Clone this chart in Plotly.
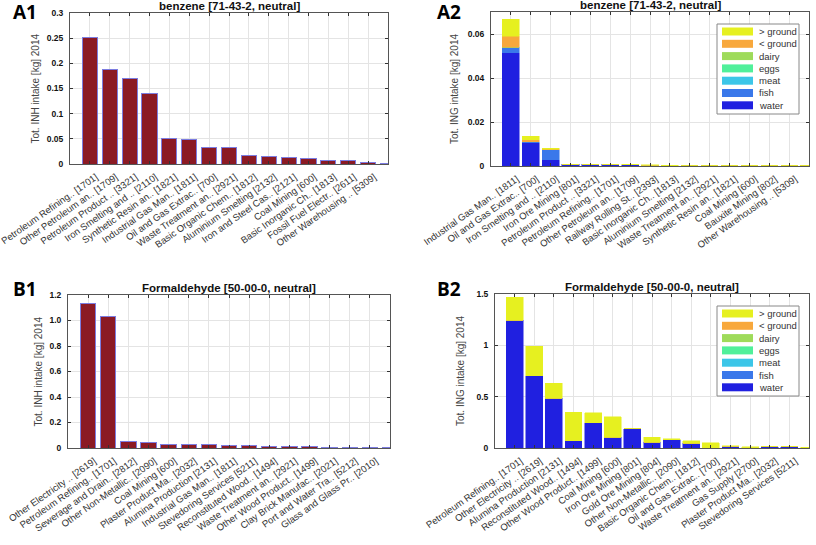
import plotly.graph_objects as go

W, H = 816, 545

# ---------------- data ----------------
a1_labels = ["Petroleum Refining.. [1701]", "Other Petroleum an.. [1709]", "Petroleum Product .. [3321]",
             "Iron Smelting and .. [2110]", "Synthetic Resin an.. [1821]", "Industrial Gas Man.. [1811]",
             "Oil and Gas Extrac.. [700]", "Waste Treatment an.. [2921]", "Basic Organic Chem.. [1812]",
             "Aluminium Smelting [2132]", "Iron and Steel Cas.. [2121]", "Coal Mining [600]",
             "Basic Inorganic Ch.. [1813]", "Fossil Fuel Electr.. [2611]", "Other Warehousing .. [5309]"]
a1_values = [0.252, 0.188, 0.170, 0.140, 0.050, 0.049, 0.033, 0.033, 0.017, 0.015,
             0.012, 0.010, 0.007, 0.007, 0.002, 0.001]

a2_labels = ["Industrial Gas Man.. [1811]", "Oil and Gas Extrac.. [700]", "Iron Smelting and .. [2110]",
             "Iron Ore Mining [801]", "Petroleum Product .. [3321]", "Petroleum Refining.. [1701]",
             "Other Petroleum an.. [1709]", "Railway Rolling St.. [2393]", "Basic Inorganic Ch.. [1813]",
             "Aluminium Smelting [2132]", "Waste Treatment an.. [2921]", "Synthetic Resin an.. [1821]",
             "Coal Mining [600]", "Bauxite Mining [802]", "Other Warehousing .. [5309]"]
a2_water = [0.0514, 0.0105, 0.0029, 0.0007, 0.0007, 0.0007, 0.0006, 0.0004, 0.0002, 0.0001,
            0.0001, 0.0001, 0.00005, 0.00003, 0.00002, 0.00001]
a2_fish = [0.0025, 0.0005, 0.0046, 0.00005, 0.00005, 0.00005, 0.00005, 0.00003, 0.00001, 0.0,
           0.0, 0.0, 0.0, 0.0, 0.0, 0.0]
a2_meat = [0.0] * 16
a2_eggs = [0.0] * 16
a2_dairy = [0.0] * 16
a2_below = [0.0050, 0.0009, 0.0001, 0.0, 0.0, 0.0, 0.0, 0.0, 0.0, 0.0, 0.0, 0.0, 0.0, 0.0, 0.0, 0.0]
a2_above = [0.0078, 0.0017, 0.0004, 0.0001, 0.0001, 0.0001, 0.0001, 0.00005, 0.00003, 0.00002,
            0.00001, 0.00001, 0.00001, 0.00001, 0.0, 0.0]

b1_labels = ["Other Electricity .. [2619]", "Petroleum Refining.. [1701]", "Sewerage and Drain.. [2812]",
             "Other Non-Metallic.. [2090]", "Coal Mining [600]", "Plaster Product Ma.. [2032]",
             "Alumina Production [2131]", "Industrial Gas Man.. [1811]", "Stevedoring Services [5211]",
             "Reconstituted Wood.. [1494]", "Waste Treatment an.. [2921]", "Other Wood Product.. [1499]",
             "Clay Brick Manufac.. [2021]", "Port and Water Tra.. [5212]", "Glass and Glass Pr.. [2010]"]
b1_values = [1.135, 1.035, 0.050, 0.045, 0.031, 0.026, 0.024, 0.018, 0.018, 0.013,
             0.012, 0.008, 0.005, 0.004, 0.003, 0.002]

b2_labels = ["Petroleum Refining.. [1701]", "Other Electricity .. [2619]", "Alumina Production [2131]",
             "Reconstituted Wood.. [1494]", "Other Wood Product.. [1499]", "Coal Mining [600]",
             "Iron Ore Mining [801]", "Gold Ore Mining [804]", "Other Non-Metallic.. [2090]",
             "Basic Organic Chem.. [1812]", "Oil and Gas Extrac.. [700]", "Waste Treatment an.. [2921]",
             "Gas Supply [2700]", "Plaster Product Ma.. [2032]", "Stevedoring Services [5211]"]
b2_water = [1.244, 0.705, 0.487, 0.071, 0.244, 0.104, 0.188, 0.058, 0.078, 0.045,
            0.002, 0.019, 0.001, 0.011, 0.010, 0.001]
b2_fish = [0.0] * 16
b2_meat = [0.0] * 16
b2_eggs = [0.0] * 16
b2_dairy = [0.0] * 16
b2_below = [0.0] * 16
b2_above = [0.224, 0.285, 0.143, 0.276, 0.097, 0.201, 0.0, 0.046, 0.010, 0.026,
            0.050, 0.002, 0.012, 0.001, 0.001, 0.008]

source_names = ["water", "fish", "meat", "eggs", "dairy", "< ground", "> ground"]
source_colors = ["#2020E0", "#3A78EA", "#3CC6E8", "#50F09A", "#9EDB5A", "#F8A83C", "#E6F020"]

a1_ticks = [0, 0.05, 0.1, 0.15, 0.2, 0.25, 0.3]
a2_ticks = [0, 0.02, 0.04, 0.06]
b1_ticks = [0, 0.2, 0.4, 0.6, 0.8, 1.0, 1.2]
b1_ticktext = ["0", "0.2", "0.4", "0.6", "0.8", "1.0", "1.2"]
b2_ticks = [0, 0.5, 1, 1.5]

# ---------------- layout helpers ----------------
def px_x(p):
    return p / W

def px_y(p):
    return 1 - p / H

fig = go.Figure()

RED = "#8B1A24"
EDGE = "#7C7CE0"

def add_simple(values, xa, ya):
    fig.add_trace(go.Bar(x=list(range(1, len(values) + 1)), y=values, xaxis=xa, yaxis=ya,
                         width=0.76, marker=dict(color=RED, line=dict(color=EDGE, width=1)),
                         showlegend=False))

def add_stacked(series, xa, ya):
    for name, col, vals in zip(source_names, source_colors, series):
        fig.add_trace(go.Bar(x=list(range(1, len(vals) + 1)), y=vals, xaxis=xa, yaxis=ya,
                             name=name, width=0.86,
                             marker=dict(color=col, line=dict(color=col, width=0.5)),
                             showlegend=False))

add_simple(a1_values, "x", "y")
add_stacked([a2_water, a2_fish, a2_meat, a2_eggs, a2_dairy, a2_below, a2_above], "x2", "y2")
add_simple(b1_values, "x3", "y3")
add_stacked([b2_water, b2_fish, b2_meat, b2_eggs, b2_dairy, b2_below, b2_above], "x4", "y4")

FONT = "Liberation Sans, Arial, sans-serif"
GRID = "#E4E4E4"
AXC = "#555555"

def xaxis(dom, anchor, labels):
    return dict(domain=dom, anchor=anchor, range=[0, 16], tickmode="array",
                tickvals=list(range(1, len(labels) + 1)), ticktext=labels, tickangle=-35,
                tickfont=dict(family=FONT, size=9.5, color="#333333"),
                showgrid=True, gridcolor=GRID, gridwidth=1, showline=True, linecolor=AXC,
                linewidth=1, mirror="ticks", ticks="inside", ticklen=3, tickcolor="#333333",
                zeroline=False, fixedrange=True, automargin=False, ticklabeloverflow="allow",
                ticklabelshift=6, ticklabelstandoff=3)

def yaxis(dom, anchor, rng, tv, tt=None):
    d = dict(domain=dom, anchor=anchor, range=rng, tickmode="array", tickvals=tv,
             tickfont=dict(family=FONT, size=8.5, color="#111111", weight="bold"),
             showgrid=True, gridcolor=GRID, gridwidth=1, showline=True, linecolor=AXC,
             linewidth=1, mirror="ticks", ticks="inside", ticklen=3, tickcolor="#333333",
             zeroline=False, fixedrange=True, ticklabelstandoff=4, automargin=False,
             ticklabeloverflow="allow")
    if tt is not None:
        d["ticktext"] = tt
    return d

# panel geometry in pixels: (left, right, top, bottom)
A1 = (70, 388, 13, 164)
A2 = (491, 809, 12, 166)
B1 = (68, 390, 295, 448)
B2 = (495, 809, 294, 448)

def dom(p):
    return [px_x(p[0]), px_x(p[1])], [px_y(p[3]), px_y(p[2])]

a1x, a1y = dom(A1)
a2x, a2y = dom(A2)
b1x, b1y = dom(B1)
b2x, b2y = dom(B2)

fig.update_layout(
    width=W, height=H, margin=dict(l=0, r=0, t=0, b=0, autoexpand=False),
    paper_bgcolor="white", plot_bgcolor="white", barmode="stack",
    font=dict(family=FONT),
    xaxis=xaxis(a1x, "y", a1_labels), yaxis=yaxis(a1y, "x", [0, 0.3], a1_ticks),
    xaxis2=xaxis(a2x, "y2", a2_labels), yaxis2=yaxis(a2y, "x2", [0, 0.07], a2_ticks),
    xaxis3=xaxis(b1x, "y3", b1_labels), yaxis3=yaxis(b1y, "x3", [0, 1.2], b1_ticks, b1_ticktext),
    xaxis4=xaxis(b2x, "y4", b2_labels), yaxis4=yaxis(b2y, "x4", [0, 1.5], b2_ticks),
)

ann = []
shapes = []

# panel letters
for txt, x, y in [("A1", 11, 12), ("A2", 435, 12), ("B1", 11, 289), ("B2", 435, 289)]:
    ann.append(dict(text=txt, x=px_x(x), y=px_y(y), xref="paper", yref="paper", xanchor="left",
                    yanchor="middle", showarrow=False,
                    font=dict(family="Open Sans, sans-serif", size=19, color="black", weight="bold")))

# titles
for txt, p in [("benzene [71-43-2, neutral]", A1), ("benzene [71-43-2, neutral]", A2),
               ("Formaldehyde [50-00-0, neutral]", B1), ("Formaldehyde [50-00-0, neutral]", B2)]:
    ann.append(dict(text=txt, x=px_x((p[0] + p[1]) / 2), y=px_y(p[2] - 7), xref="paper", yref="paper",
                    xanchor="center", yanchor="middle", showarrow=False,
                    font=dict(family=FONT, size=11.5, color="#111111", weight="bold")))

# y-axis titles
for txt, x, p in [("Tot. INH intake [kg] 2014", 35, A1), ("Tot. ING intake [kg] 2014", 455, A2),
                  ("Tot. INH intake [kg] 2014", 38, B1), ("Tot. ING intake [kg] 2014", 460, B2)]:
    ann.append(dict(text=txt, x=px_x(x), y=px_y((p[2] + p[3]) / 2), xref="paper", yref="paper",
                    xanchor="center", yanchor="middle", showarrow=False, textangle=-90,
                    font=dict(family=FONT, size=10, color="#444444")))

# legends (drawn boxes with swatches)
def legend(top):
    left, right = 717, 799
    shapes.append(dict(type="rect", xref="paper", yref="paper", x0=px_x(left), x1=px_x(right),
                       y0=px_y(top + 90), y1=px_y(top), line=dict(color="#888888", width=1),
                       fillcolor="white", layer="above"))
    order = list(zip(source_names, source_colors))[::-1]
    for i, (name, col) in enumerate(order):
        yc = top + 7.5 + i * 12.3
        shapes.append(dict(type="rect", xref="paper", yref="paper", x0=px_x(722), x1=px_x(753),
                           y0=px_y(yc + 4), y1=px_y(yc - 4), line=dict(width=0), fillcolor=col,
                           layer="above"))
        ann.append(dict(text=name, x=px_x(757), y=px_y(yc), xref="paper", yref="paper",
                        xanchor="left", yanchor="middle", showarrow=False,
                        font=dict(family=FONT, size=9.5, color="#333333")))

legend(24)
legend(306)

fig.update_layout(annotations=ann, shapes=shapes)
fig.write_html("out.html", config={"displayModeBar": False},
               post_script="document.body.style.margin='0';document.body.style.overflow='hidden';")
